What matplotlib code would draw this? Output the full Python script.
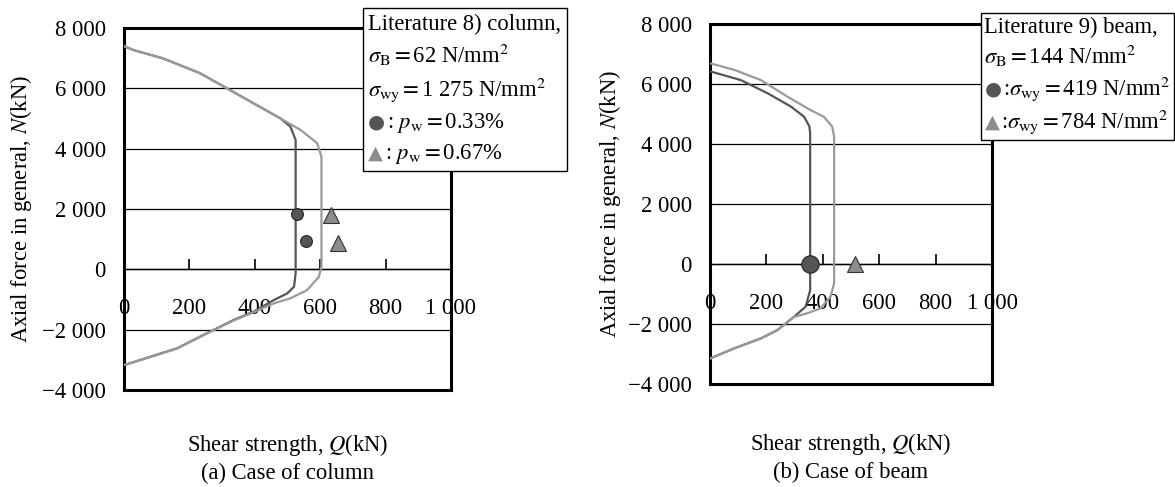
import numpy as np
import matplotlib.pyplot as plt
from matplotlib.ticker import FuncFormatter
from matplotlib.offsetbox import TextArea, HPacker, VPacker, AnchoredOffsetbox

plt.rcParams['font.family'] = ['Liberation Serif', 'DejaVu Sans']
plt.rcParams['mathtext.fontset'] = 'stix'
FS = 16.3

# (a) column, literature 8): N-Q envelopes for pw=0.33% and pw=0.67%
col_q_033 = [0, 29, 120, 233, 315, 397, 479, 509, 525, 525, 520, 499, 458, 397, 335, 274, 233, 162, 80, 8, 0]
col_n_033 = [7400, 7270, 6990, 6500, 6000, 5500, 5000, 4730, 4290, -130, -580, -800, -1020, -1400, -1680, -2010, -2230, -2620, -2900, -3150, -3170]
col_q_067 = [0, 29, 120, 233, 315, 397, 479, 540, 591, 604, 604, 596, 560, 509, 458, 397, 335, 274, 233, 162, 80, 8, 0]
col_n_067 = [7400, 7270, 6990, 6500, 6000, 5500, 5000, 4620, 4180, 3730, 90, -250, -690, -960, -1130, -1420, -1700, -2020, -2240, -2630, -2910, -3150, -3170]
col_test_q_033 = [530, 558]
col_test_n_033 = [1850, 950]
col_test_q_067 = [632, 656]
col_test_n_067 = [1800, 870]

# (b) beam, literature 9): envelopes for sigma_wy=419 and 784 N/mm2
beam_q_419 = [0, 109, 204, 286, 333, 352, 355, 355, 339, 298, 239, 180, 86, 0]
beam_n_419 = [6430, 6140, 5700, 5260, 4920, 4600, 4360, -870, -1420, -1755, -2200, -2480, -2810, -3150]
beam_q_784 = [0, 86, 180, 274, 356, 403, 433, 440, 440, 427, 392, 345, 298, 239, 180, 86, 0]
beam_n_784 = [6700, 6480, 6140, 5590, 5140, 4920, 4590, 4250, -640, -1090, -1475, -1640, -1760, -2200, -2480, -2810, -3150]
beam_test_q_419 = [354]
beam_test_n_419 = [0]
beam_test_q_784 = [515]
beam_test_n_784 = [0]

x_ticks = [0, 200, 400, 600, 800, 1000]
y_ticks = [-4000, -2000, 0, 2000, 4000, 6000, 8000]

DARK = '#555555'
LIGHT = '#9a9a9a'
MARK2 = '#8c8c8c'


def thousands(v, pos=None):
    s = f"{abs(v):,.0f}".replace(",", " ")
    return ("\u2212" if v < 0 else "") + s


def setup(ax, ylabelpad, xlabelpad, caption, caption_off):
    ax.set_xlim(0, 1000)
    ax.set_ylim(-4000, 8000)
    ax.set_yticks(y_ticks)
    ax.yaxis.set_major_formatter(FuncFormatter(thousands))
    ax.tick_params(axis='y', length=0, pad=13, labelsize=FS)
    ax.tick_params(axis='x', bottom=False, labelbottom=False)
    ax.grid(axis='y', color='black', lw=0.9)
    ax.set_axisbelow(True)
    for sp in ax.spines.values():
        sp.set_linewidth(2.2)
    # x axis drawn along N = 0
    sec = ax.secondary_xaxis((0 - (-4000)) / 12000)
    sec.set_xticks(x_ticks)
    sec.xaxis.set_major_formatter(FuncFormatter(thousands))
    sec.tick_params(direction='in', length=7, width=1.2, pad=21, labelsize=FS)
    sec.spines['bottom'].set_linewidth(1.0)
    ax.set_ylabel("Axial force in general, $N$(kN)", fontsize=FS, labelpad=ylabelpad)
    ax.set_xlabel("Shear strength, $Q$(kN)", fontsize=FS, labelpad=xlabelpad)
    ax.annotate(caption, xy=(0.5, 0), xycoords='axes fraction', xytext=(0, -caption_off),
                textcoords='offset points', ha='center', va='center', fontsize=FS)


def note_box(fig, rows, anchor, pad=0.4, sep=5):
    lines = []
    for mark, color, txt in rows:
        parts = []
        if mark:
            parts.append(TextArea(mark, textprops=dict(color=color, family='DejaVu Sans', size=14)))
        parts.append(TextArea(txt, textprops=dict(size=FS)))
        lines.append(HPacker(children=parts, align='baseline', pad=0, sep=1))
    box = VPacker(children=lines, align='left', pad=0, sep=sep)
    anc = AnchoredOffsetbox(loc='upper left', child=box, pad=pad, borderpad=0, frameon=True,
                            bbox_to_anchor=anchor, bbox_transform=fig.transFigure)
    anc.patch.set_boxstyle("square,pad=0")
    anc.patch.set_edgecolor('black')
    anc.patch.set_linewidth(1.0)
    fig.add_artist(anc)


fig = plt.figure(figsize=(11.75, 4.87), dpi=100)
ax1 = fig.add_axes([0.1055, 0.1992, 0.2783, 0.7433])
ax2 = fig.add_axes([0.6043, 0.2115, 0.24, 0.7386])

ax1.plot(col_q_033, col_n_033, color=DARK, lw=1.6, zorder=3)
ax1.plot(col_q_067, col_n_067, color=LIGHT, lw=1.6, zorder=3)
ax1.plot(col_test_q_033, col_test_n_033, 'o', ms=8.5, mfc=DARK, mec='#222222', mew=0.8, zorder=4)
ax1.plot(col_test_q_067, col_test_n_067, '^', ms=11, mfc=MARK2, mec='#333333', mew=0.8, zorder=4)
setup(ax1, 6, 30, "(a) Case of column", 60)

ax2.plot(beam_q_419, beam_n_419, color=DARK, lw=1.6, zorder=3)
ax2.plot(beam_q_784, beam_n_784, color=LIGHT, lw=1.6, zorder=3)
ax2.plot(beam_test_q_419, beam_test_n_419, 'o', ms=12.5, mfc=DARK, mec='#222222', mew=0.8, zorder=4)
ax2.plot(beam_test_q_784, beam_test_n_784, '^', ms=12, mfc=MARK2, mec='#333333', mew=0.8, zorder=4)
setup(ax2, 4, 34, "(b) Case of beam", 64)

note_box(fig, [
    (None, None, "Literature 8) column,"),
    (None, None, r"$\sigma_{\mathrm{B}}=$62 N/mm$^2$"),
    (None, None, r"$\sigma_{\mathrm{wy}}=$1 275 N/mm$^2$"),
    ("\u25cf", DARK, r": $p_{\mathrm{w}}=$0.33%"),
    ("\u25b2", MARK2, r": $p_{\mathrm{w}}=$0.67%"),
], (362.7 / 1175, 1 - 8.3 / 487))

note_box(fig, [
    (None, None, "Literature 9) beam,"),
    (None, None, r"$\sigma_{\mathrm{B}}=$144 N/mm$^2$"),
    ("\u25cf", DARK, r":$\sigma_{\mathrm{wy}}=$419 N/mm$^2$"),
    ("\u25b2", MARK2, r":$\sigma_{\mathrm{wy}}=$784 N/mm$^2$"),
], (981 / 1175, 1 - 13.3 / 487), pad=0.25, sep=3.5)

fig.savefig("out.png", dpi=100)
